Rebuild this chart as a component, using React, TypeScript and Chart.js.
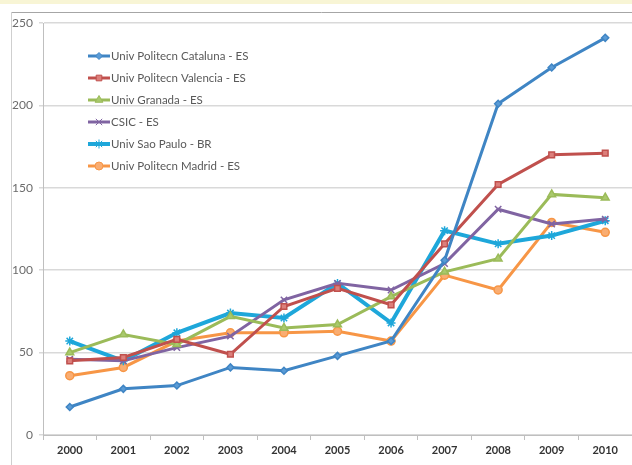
import React, { useEffect, useRef } from "react";
import { Chart, registerables } from "chart.js";
import { drawPoint } from "chart.js/helpers";

Chart.register(...registerables);

const years = ["2000", "2001", "2002", "2003", "2004", "2005", "2006", "2007", "2008", "2009", "2010"];

const cataluna = [17, 28, 30, 41, 39, 48, 57, 106, 201, 223, 241];
const valencia = [45, 47, 58, 49, 78, 89, 79, 116, 152, 170, 171];
const granada = [50, 61, 55, 72, 65, 67, 84, 99, 107, 146, 144];
const csic = [46, 45, 53, 60, 82, 92, 88, 104, 137, 128, 131];
const saoPaulo = [57, 45, 62, 74, 71, 92, 68, 124, 116, 121, 130];
const madrid = [36, 41, 57, 62, 62, 63, 57, 97, 88, 129, 123];

const seriesNames = [
  "Univ Politecn Cataluna - ES",
  "Univ Politecn Valencia - ES",
  "Univ Granada - ES",
  "CSIC - ES",
  "Univ Sao Paulo - BR",
  "Univ Politecn Madrid - ES",
];

const yTicks = [0, 50, 100, 150, 200, 250];

const FONT = "Lato, 'Open Sans', sans-serif";

const framePlugin = {
  id: "frame",
  beforeDraw(chart: any) {
    const { ctx, width } = chart;
    ctx.save();
    ctx.fillStyle = "#f8f5d5";
    ctx.fillRect(0, 0, width, 4);
    ctx.strokeStyle = "#a6a6a6";
    ctx.lineWidth = 1;
    ctx.beginPath();
    ctx.moveTo(11, 12.5);
    ctx.lineTo(width, 12.5);
    ctx.stroke();
    ctx.strokeStyle = "#cfcfcf";
    ctx.beginPath();
    ctx.moveTo(11.5, 12);
    ctx.lineTo(11.5, chart.height);
    ctx.stroke();
    ctx.restore();
  },
};

const legendPlugin = {
  id: "insideLegend",
  afterDraw(chart: any) {
    const { ctx } = chart;
    ctx.save();
    ctx.font = `11.5px ${FONT}`;
    ctx.textBaseline = "middle";
    chart.data.datasets.forEach((ds: any, i: number) => {
      const y = 56 + i * 22;
      ctx.strokeStyle = ds.borderColor;
      ctx.lineWidth = ds.borderWidth;
      ctx.beginPath();
      ctx.moveTo(88, y);
      ctx.lineTo(110, y);
      ctx.stroke();
      ctx.fillStyle = ds.pointBackgroundColor;
      ctx.strokeStyle = ds.pointBorderColor;
      ctx.lineWidth = 1;
      drawPoint(ctx, { pointStyle: ds.pointStyle, radius: ds.pointRadius, borderWidth: 1.5, rotation: 0 }, 99, y);
      ctx.fillStyle = "#595959";
      ctx.fillText(ds.label, 111, y);
    });
    ctx.restore();
  },
};

export default function App() {
  const ref = useRef<HTMLCanvasElement | null>(null);

  useEffect(() => {
    if (!ref.current) return;
    const mk = (label: string, data: number[], color: string, fill: string, style: string, r: number, w: number) => ({
      label,
      data,
      borderColor: color,
      backgroundColor: color,
      pointBackgroundColor: fill,
      pointBorderColor: color,
      pointBorderWidth: 1.5,
      pointStyle: style,
      pointRadius: r,
      borderWidth: w,
      tension: 0,
      clip: false,
    });
    const chart = new Chart(ref.current, {
      type: "line",
      data: {
        labels: years,
        datasets: [
          mk(seriesNames[0], cataluna, "#3f85c4", "#5a9bd6", "rectRot", 3.5, 3),
          mk(seriesNames[1], valencia, "#c0504d", "#dc7f7b", "rect", 4, 3),
          mk(seriesNames[2], granada, "#9bbb59", "#a9c96c", "triangle", 4.5, 3),
          mk(seriesNames[3], csic, "#8064a2", "#9a80bb", "crossRot", 4.5, 3),
          mk(seriesNames[4], saoPaulo, "#1ea7da", "#6cc7ea", "star", 4.5, 4),
          mk(seriesNames[5], madrid, "#f79646", "#f9ad72", "circle", 4, 3),
        ],
      },
      options: {
        responsive: false,
        animation: false,
        layout: { autoPadding: false, padding: { top: 23, left: 0, right: 0, bottom: 0 } },
        plugins: {
          legend: { display: false },
          tooltip: { enabled: false },
        },
        scales: {
          x: {
            type: "category",
            offset: true,
            grid: {
              offset: true,
              drawOnChartArea: false,
              drawTicks: true,
              tickLength: 5,
              color: "#bfbfbf",
            },
            border: { color: "#bfbfbf", width: 1 },
            ticks: {
              color: "#333333",
              font: { family: FONT, size: 11, weight: "bold" },
              padding: 4,
              maxRotation: 0,
            },
            afterFit: (s: any) => {
              s.height = 30;
              s.paddingLeft = 0;
              s.paddingRight = 0;
            },
          },
          y: {
            min: 0,
            max: 250,
            afterBuildTicks: (s: any) => {
              s.ticks = yTicks.map((v) => ({ value: v }));
            },
            grid: {
              color: "#d9d9d9",
              lineWidth: 1.5,
              tickLength: 4,
            },
            border: { color: "#bfbfbf", width: 1 },
            ticks: {
              color: "#6b6b6b",
              font: { family: FONT, size: 12 },
              padding: 6,
            },
            afterFit: (s: any) => {
              s.width = 43;
              s.paddingTop = 0;
              s.paddingBottom = 0;
            },
          },
        },
      },
      plugins: [framePlugin, legendPlugin],
    } as any);
    return () => chart.destroy();
  }, []);

  return (
    <div style={{ position: "fixed", left: 0, top: 0, width: 632, height: 465, background: "#fff" }}>
      <canvas ref={ref} width={632} height={465} style={{ width: 632, height: 465, display: "block" }} />
    </div>
  );
}
